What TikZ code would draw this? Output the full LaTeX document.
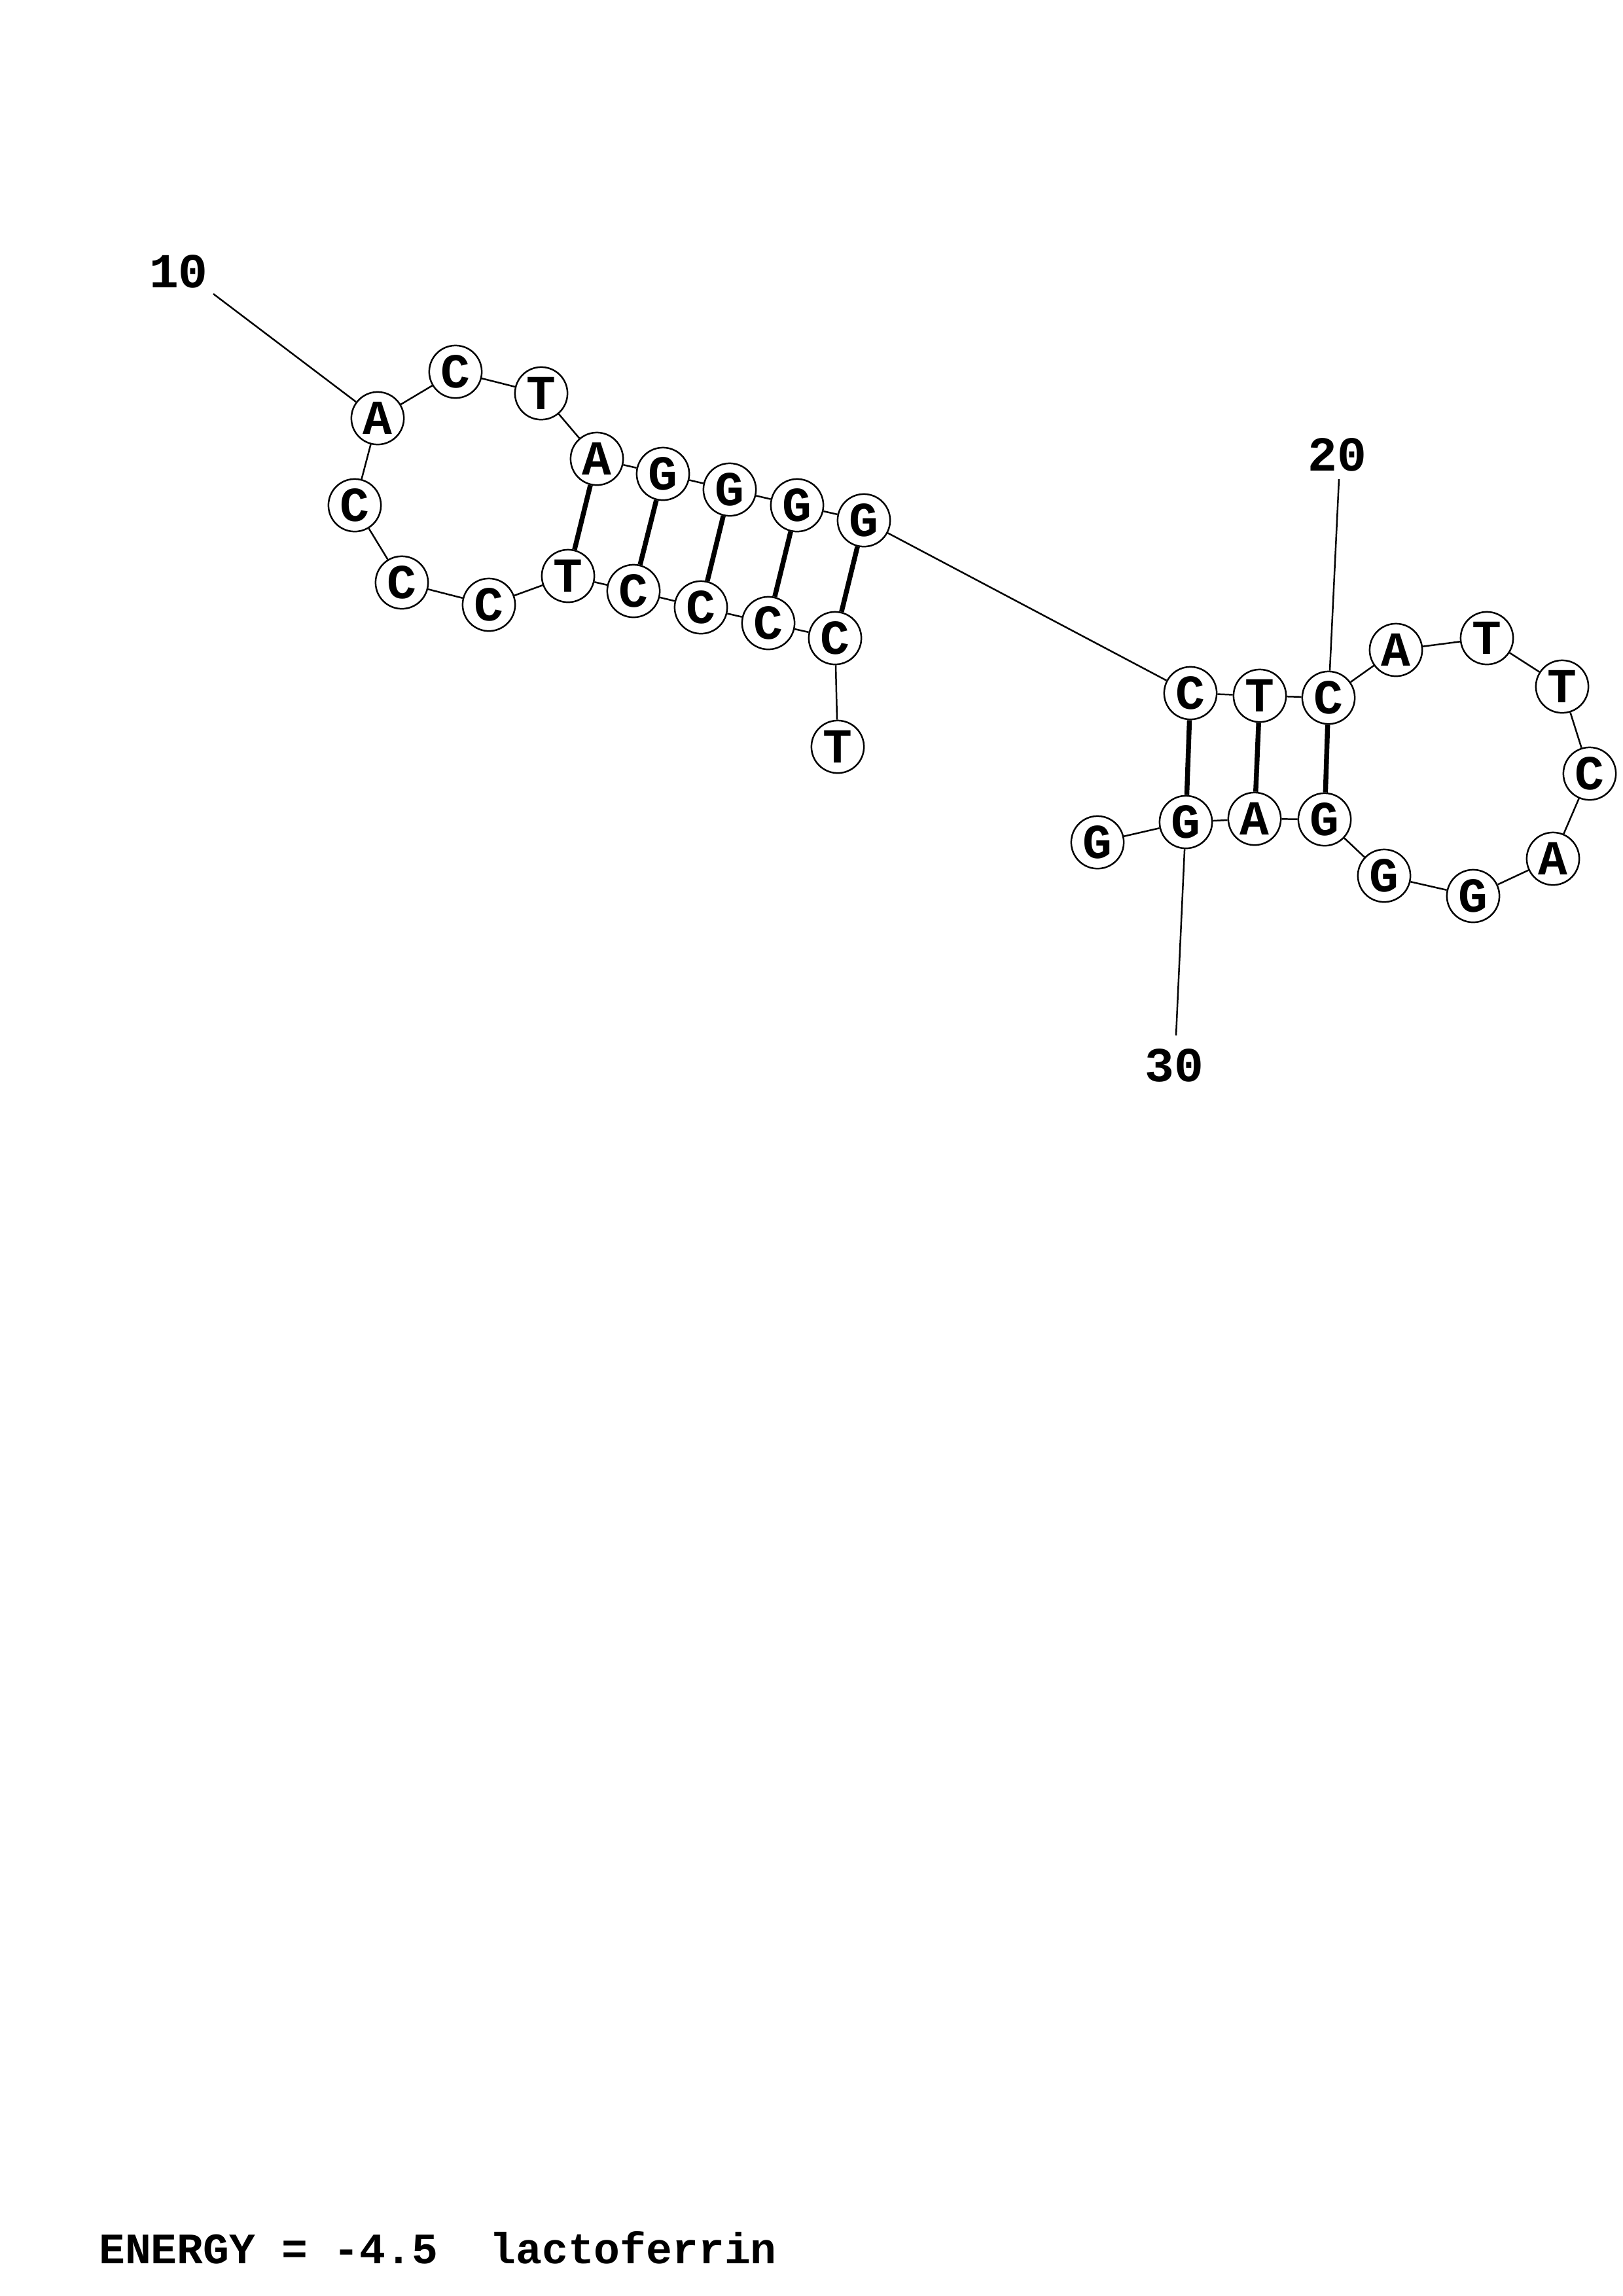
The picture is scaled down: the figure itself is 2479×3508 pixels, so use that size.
\documentclass[tikz,border=0pt]{standalone}
\usepackage{fontspec}
\setmonofont{Liberation Mono}
\usetikzlibrary{positioning}

\begin{document}
\begin{tikzpicture}[x=0.08471mm,y=-0.08471mm,semithick]
\tikzstyle{nt}=[circle,draw=black,fill=white,line width=0.6pt,inner sep=0pt,minimum size=6.8mm,font=\ttfamily\bfseries\fontsize{18}{18}\selectfont]
\tikzstyle{pair}=[line width=1.8pt]
\tikzstyle{bb}=[line width=0.6pt]
\tikzstyle{num}=[font=\ttfamily\bfseries\fontsize{18}{18}\selectfont,inner sep=0pt]
\useasboundingbox (0,0) rectangle (2479,3508);
% first hairpin
\node[nt] (1) at (1280,1141) {T};
\node[nt] (2) at (1276,975) {C};
\node[nt] (3) at (1174,952) {C};
\node[nt] (4) at (1071,928) {C};
\node[nt] (5) at (968,903) {C};
\node[nt] (6) at (868,880) {T};
\node[nt] (7) at (747,924) {C};
\node[nt] (8) at (614,890) {C};
\node[nt] (9) at (542,772) {C};
\node[nt] (10) at (577,639) {A};
\node[nt] (11) at (696,568) {C};
\node[nt] (12) at (827,601) {T};
\node[nt] (13) at (912,701) {A};
\node[nt] (14) at (1013,724) {G};
\node[nt] (15) at (1115,748) {G};
\node[nt] (16) at (1218,772) {G};
\node[nt] (17) at (1320,795) {G};
% second hairpin
\node[nt] (18) at (1819,1059) {C};
\node[nt] (19) at (1925,1063) {T};
\node[nt] (20) at (2030,1066) {C};
\node[nt] (21) at (2133,993) {A};
\node[nt] (22) at (2272,975) {T};
\node[nt] (23) at (2387,1049) {T};
\node[nt] (24) at (2429,1182) {C};
\node[nt] (25) at (2373,1312) {A};
\node[nt] (26) at (2251,1369) {G};
\node[nt] (27) at (2115,1338) {G};
\node[nt] (28) at (2024,1252) {G};
\node[nt] (29) at (1917,1251) {A};
\node[nt] (30) at (1812,1256) {G};
\node[nt] (31) at (1677,1287) {G};
% backbone
\foreach \i [evaluate=\i as \j using int(\i+1)] in {1,...,30}
  \draw[bb] (\i) -- (\j);
% pairs
\path[draw,pair]
(13) -- (6)
(14) -- (5)
(15) -- (4)
(16) -- (3)
(17) -- (2)
(18) -- (30)
(19) -- (29)
(20) -- (28)
;
% numbering
\node[num] (l10) at (273,415) {10};
\node[num] (l20) at (2043,695) {20};
\node[num] (l30) at (1794,1628) {30};
\coordinate (t10) at (326,449);
\coordinate (t20) at (2046,732);
\coordinate (t30) at (1797,1582);
\draw[bb] (t10) -- (10);
\draw[bb] (t20) -- (20);
\draw[bb] (t30) -- (30);
\node[anchor=west,inner sep=0pt,font=\ttfamily\bfseries\fontsize{16}{16}\selectfont] (energy) at (150,3434) {ENERGY = -4.5\ \ lactoferrin};
\end{tikzpicture}
\end{document}
